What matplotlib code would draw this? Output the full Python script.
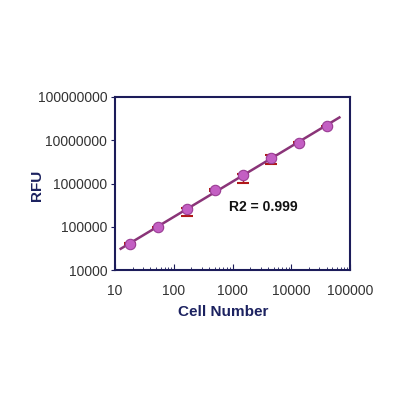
import matplotlib.pyplot as plt
import numpy as np
from matplotlib.ticker import LogLocator, FuncFormatter

plt.rcParams['font.family'] = ['Liberation Sans', 'DejaVu Sans']

# data
cell_number = np.array([18.3, 55, 165, 494, 1481, 4444, 13333, 40000])
rfu = np.array([40000, 97000, 262000, 700000, 1580000, 3900000, 8700000, 21000000])
err_low = np.array([2000, 4000, 85000, 40000, 530000, 1100000, 300000, 600000])
err_high = np.array([2000, 4000, 10000, 40000, 60000, 600000, 300000, 600000])
r2_text = "R2 = 0.999"

# power-law trend line fitted in log space
coef = np.polyfit(np.log10(cell_number), np.log10(rfu), 1)
fit_x = np.logspace(np.log10(12.5), np.log10(66000), 50)
fit_y = 10 ** np.polyval(coef, np.log10(fit_x))

fig = plt.figure(figsize=(4, 4), dpi=100)
ax = fig.add_axes([0.2875, 0.325, 0.5875, 0.4325])

ax.errorbar(cell_number, rfu, yerr=[err_low, err_high], fmt="none",
            ecolor="#b01818", elinewidth=1, capsize=4, capthick=1.5, zorder=2)
ax.plot(fit_x, fit_y, "-", color="#8a3478", linewidth=1.8, zorder=3)
ax.plot(cell_number, rfu, "o", markersize=7.5, color="#c35fc3",
        markeredgecolor="#9a3d94", markeredgewidth=0.8, zorder=4)

ax.set_xscale("log")
ax.set_yscale("log")
ax.set_xlim(10, 100000)
ax.set_ylim(10000, 100000000)

fmt = FuncFormatter(lambda v, p: "%d" % round(v))
ax.xaxis.set_major_formatter(fmt)
ax.yaxis.set_major_formatter(fmt)
ax.xaxis.set_minor_locator(LogLocator(base=10, subs=np.arange(2, 10)))
ax.yaxis.set_minor_locator(plt.NullLocator())
ax.tick_params(axis="x", which="major", direction="in", length=4, color="#1c1c5a", pad=10)
ax.tick_params(axis="x", which="minor", direction="in", length=2, color="#1c1c5a")
ax.tick_params(axis="y", which="major", direction="out", length=3, color="#1c1c5a", pad=2.5)
ax.tick_params(labelsize=10, labelcolor="#333333")

for s in ax.spines.values():
    s.set_color("#1c1c5a")
    s.set_linewidth(1.5)

ax.set_xlabel("Cell Number", fontsize=11, fontweight="bold", color="#1c2260")
ax.set_ylabel("RFU", fontsize=11, fontweight="bold", color="#1c2260")
ax.xaxis.set_label_coords(0.46, -0.20)
ax.yaxis.set_label_coords(-0.30, 0.49)
ax.text(0.63, 0.364, r2_text, transform=ax.transAxes, ha="center", va="center",
        fontsize=10, fontweight="bold", color="#111111")

plt.savefig("out.png", dpi=100)
